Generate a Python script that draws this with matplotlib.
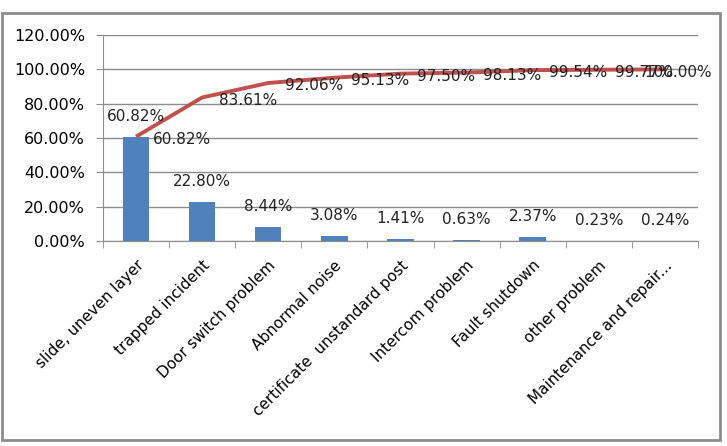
import numpy as np
import matplotlib
matplotlib.use("Agg")
import matplotlib.pyplot as plt
from matplotlib.patches import Rectangle

# --- datos ---
categories = ["slide, uneven layer", "trapped incident", "Door switch problem",
              "Abnormal noise", "certificate  unstandard post", "Intercom problem",
              "Fault shutdown", "other problem", "Maintenance and repair..."]
share = [60.82, 22.80, 8.44, 3.08, 1.41, 0.63, 2.37, 0.23, 0.24]
cumulative = [60.82, 83.61, 92.06, 95.13, 97.50, 98.13, 99.54, 99.77, 100.00]
yticks = [0, 20, 40, 60, 80, 100, 120]

bar_color = "#4F81BD"
line_color = "#C0504D"
grid_color = "#8C8C8C"

fig = plt.figure(figsize=(7.27, 4.46), dpi=100)
ax = fig.add_axes([0.1417, 0.4596, 0.8183, 0.4619])

x = np.arange(len(categories))
ax.bar(x, share, width=0.4, color=bar_color, zorder=2)
ax.plot(x, cumulative, color=line_color, lw=2.8, zorder=3, solid_capstyle="butt")

# etiquetas de barras
for xi, v in zip(x, share):
    ax.annotate(f"{v:.2f}%", (xi, v), xytext=(0, 9), textcoords="offset points",
                ha="center", va="bottom", fontsize=11, color="#222222")

# etiquetas de la curva acumulada (la última se corre a la izquierda, como en Excel)
for i, (xi, v) in enumerate(zip(x, cumulative)):
    last = i == len(x) - 1
    ax.annotate(f"{v:.2f}%", (xi, v), xytext=(34 if last else 12, -2),
                textcoords="offset points", ha="right" if last else "left",
                va="center", fontsize=11, color="#222222", zorder=4)

ax.set_xlim(-0.5, len(categories) - 0.5)
ax.set_ylim(0, 120)
ax.set_yticks(yticks)
ax.set_yticklabels([f"{t:.2f}%" for t in yticks], fontsize=11.5)
ax.grid(axis="y", color=grid_color, lw=1, zorder=0)
ax.set_axisbelow(True)

ax.set_xticks(x)
ax.set_xticklabels(categories, rotation=45, ha="right", rotation_mode="anchor", fontsize=11)
ax.set_xticks(np.arange(-0.5, len(categories), 1), minor=True)
ax.tick_params(axis="x", which="major", length=0, pad=12)
ax.tick_params(axis="x", which="minor", length=5, color=grid_color)
ax.tick_params(axis="y", length=5, color=grid_color, pad=8)

for s in ["top", "right"]:
    ax.spines[s].set_visible(False)
ax.spines["left"].set_color(grid_color)
ax.spines["bottom"].set_color(grid_color)

# marco exterior
fig.patches.append(Rectangle((2 / 727, 1 - 440 / 446), 718 / 727, 427 / 446,
                             transform=fig.transFigure, fill=False,
                             edgecolor="#8C8C8C", lw=2))

fig.savefig("out.png", dpi=100)
